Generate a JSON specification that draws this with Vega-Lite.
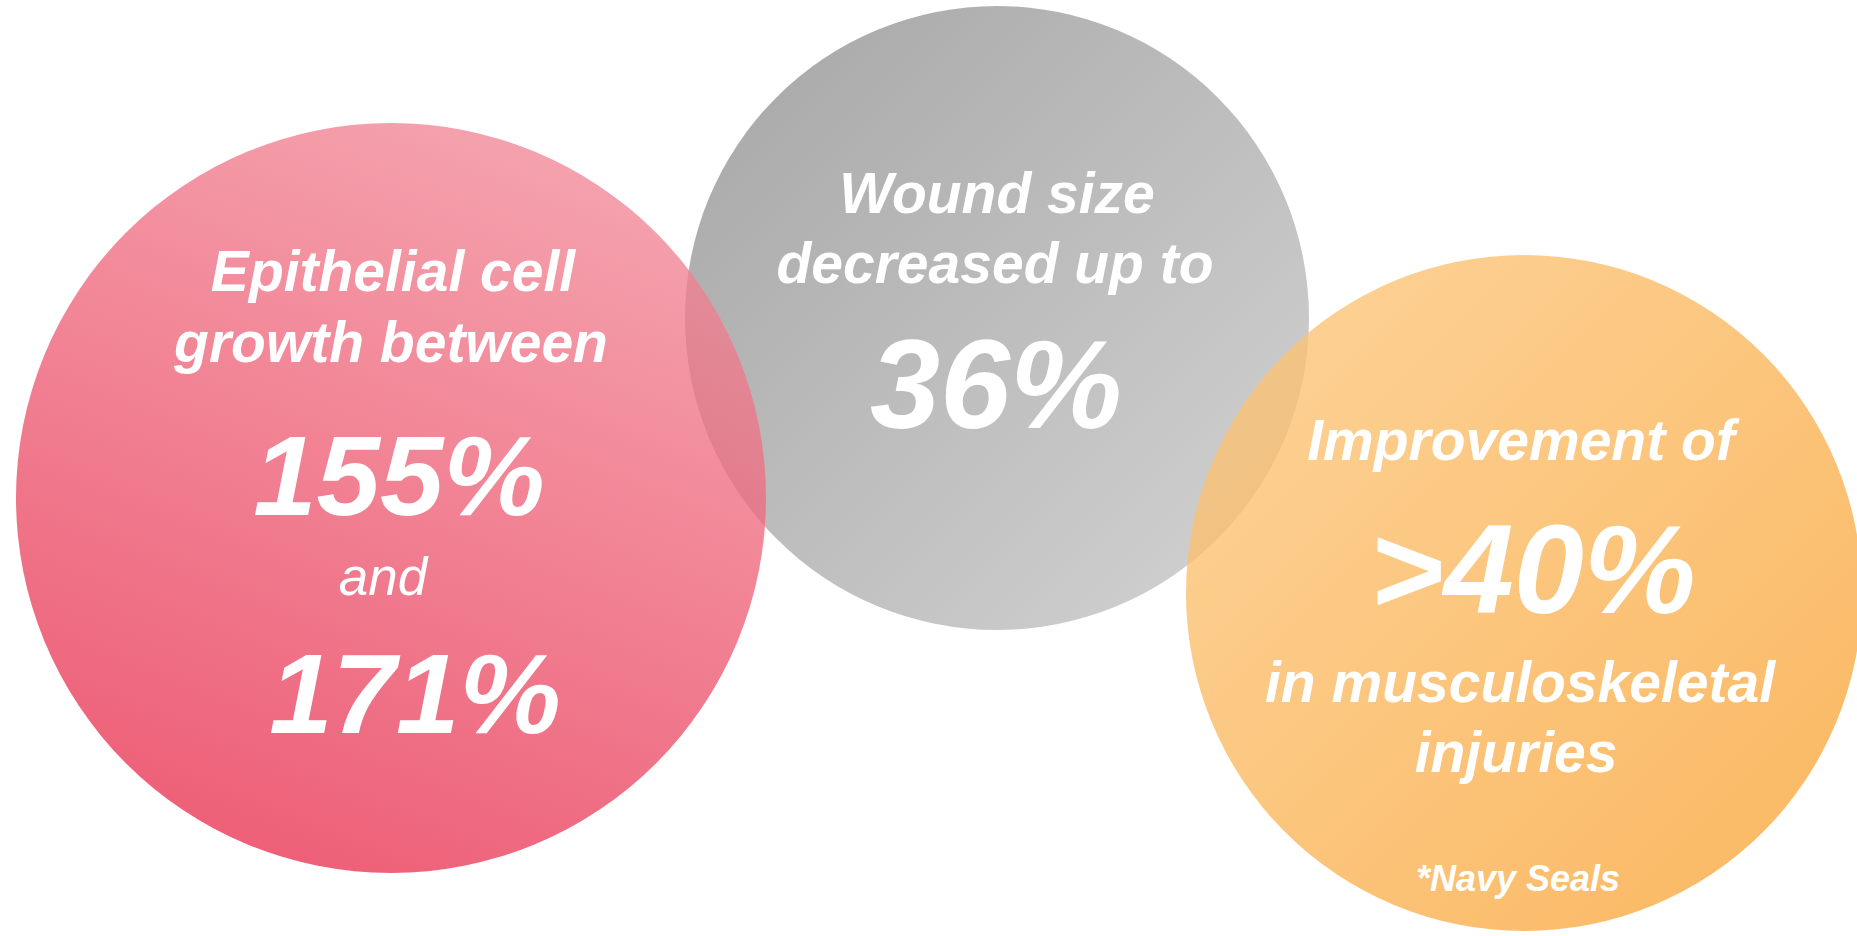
{
  "$schema": "https://vega.github.io/schema/vega-lite/v6.json",
  "autosize": {"type": "fit", "contains": "padding"},
  "width": 1857,
  "height": 936,
  "padding": 0,
  "background": "#ffffff",
  "config": {"view": {"stroke": null}},
  "datasets": {
    "circles": [
      {"topic": "Wound size", "x": 997, "y": 318},
      {"topic": "Epithelial cell growth", "x": 391, "y": 498},
      {"topic": "Musculoskeletal injuries", "x": 1524, "y": 593}
    ],
    "labels": [
      {"topic": "Epithelial cell growth", "text": "Epithelial cell", "x": 393, "y": 291, "role": "body"},
      {"topic": "Epithelial cell growth", "text": "growth between", "x": 391, "y": 362, "role": "body"},
      {"topic": "Epithelial cell growth", "text": "155%", "x": 399, "y": 515, "role": "figure"},
      {"topic": "Epithelial cell growth", "text": "and", "x": 383, "y": 595, "role": "conj"},
      {"topic": "Epithelial cell growth", "text": "171%", "x": 415, "y": 733, "role": "figure"},
      {"topic": "Wound size", "text": "Wound size", "x": 997, "y": 213, "role": "body"},
      {"topic": "Wound size", "text": "decreased up to", "x": 995, "y": 283, "role": "body"},
      {"topic": "Wound size", "text": "36%", "x": 996, "y": 428, "role": "figureL"},
      {"topic": "Musculoskeletal injuries", "text": "Improvement of", "x": 1521, "y": 460, "role": "body"},
      {"topic": "Musculoskeletal injuries", "text": ">40%", "x": 1533, "y": 613, "role": "figureL"},
      {"topic": "Musculoskeletal injuries", "text": "in musculoskeletal", "x": 1520, "y": 702, "role": "body"},
      {"topic": "Musculoskeletal injuries", "text": "injuries", "x": 1516, "y": 772, "role": "body"},
      {"topic": "Musculoskeletal injuries", "text": "*Navy Seals", "x": 1518, "y": 891, "role": "note"}
    ]
  },
  "encoding": {
    "x": {"field": "x", "type": "quantitative", "scale": {"domain": [0, 1857], "nice": false, "zero": false}, "axis": null},
    "y": {"field": "y", "type": "quantitative", "scale": {"domain": [0, 936], "nice": false, "zero": false, "reverse": true}, "axis": null}
  },
  "layer": [
    {
      "data": {"name": "circles"},
      "transform": [{"filter": "datum.topic === 'Wound size'"}],
      "mark": {"type": "point", "shape": "circle", "filled": true, "clip": true, "size": 389376, "strokeWidth": 0, "fillOpacity": 0.78,
        "fill": {"gradient": "linear", "x1": 0, "y1": 0, "x2": 1, "y2": 1, "stops": [{"offset": 0, "color": "#8c8c8c"}, {"offset": 1, "color": "#c8c8c8"}]}}
    },
    {
      "data": {"name": "circles"},
      "transform": [{"filter": "datum.topic === 'Epithelial cell growth'"}],
      "mark": {"type": "point", "shape": "circle", "filled": true, "clip": true, "size": 562500, "strokeWidth": 0, "fillOpacity": 0.78,
        "fill": {"gradient": "linear", "x1": 0.3, "y1": 1, "x2": 0.7, "y2": 0, "stops": [{"offset": 0, "color": "#e8304f"}, {"offset": 1, "color": "#f28a99"}]}}
    },
    {
      "data": {"name": "circles"},
      "transform": [{"filter": "datum.topic === 'Musculoskeletal injuries'"}],
      "mark": {"type": "point", "shape": "circle", "filled": true, "clip": true, "size": 456976, "strokeWidth": 0, "fillOpacity": 0.78,
        "fill": {"gradient": "linear", "x1": 0, "y1": 0, "x2": 1, "y2": 1, "stops": [{"offset": 0, "color": "#fcc87f"}, {"offset": 1, "color": "#f9a231"}]}}
    },
    {
      "data": {"name": "labels"},
      "transform": [{"filter": "datum.role === 'body'"}],
      "mark": {"type": "text", "align": "center", "baseline": "alphabetic", "font": "Liberation Sans", "fontWeight": "bold", "fontStyle": "italic", "fontSize": 57, "color": "#ffffff"},
      "encoding": {"text": {"field": "text"}}
    },
    {
      "data": {"name": "labels"},
      "transform": [{"filter": "datum.role === 'figure'"}],
      "mark": {"type": "text", "align": "center", "baseline": "alphabetic", "font": "Liberation Sans", "fontWeight": "bold", "fontStyle": "italic", "fontSize": 114, "color": "#ffffff"},
      "encoding": {"text": {"field": "text"}}
    },
    {
      "data": {"name": "labels"},
      "transform": [{"filter": "datum.role === 'figureL'"}],
      "mark": {"type": "text", "align": "center", "baseline": "alphabetic", "font": "Liberation Sans", "fontWeight": "bold", "fontStyle": "italic", "fontSize": 126, "color": "#ffffff"},
      "encoding": {"text": {"field": "text"}}
    },
    {
      "data": {"name": "labels"},
      "transform": [{"filter": "datum.role === 'conj'"}],
      "mark": {"type": "text", "align": "center", "baseline": "alphabetic", "font": "Liberation Sans", "fontWeight": "normal", "fontStyle": "italic", "fontSize": 53, "color": "#ffffff"},
      "encoding": {"text": {"field": "text"}}
    },
    {
      "data": {"name": "labels"},
      "transform": [{"filter": "datum.role === 'note'"}],
      "mark": {"type": "text", "align": "center", "baseline": "alphabetic", "font": "Liberation Sans", "fontWeight": "bold", "fontStyle": "italic", "fontSize": 36, "color": "#ffffff"},
      "encoding": {"text": {"field": "text"}}
    }
  ]
}
